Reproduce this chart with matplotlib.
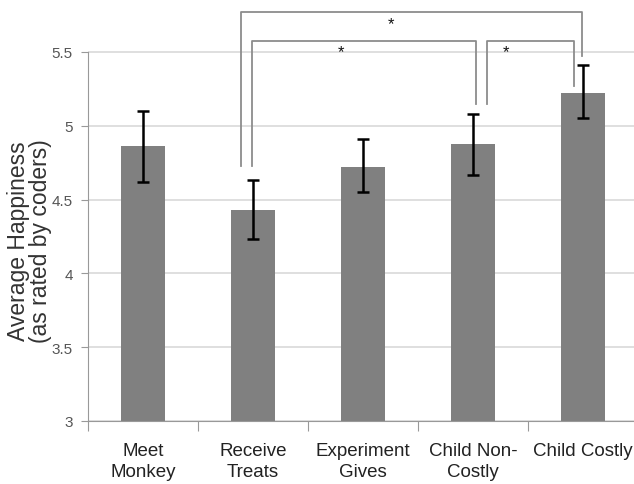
import numpy as np
import matplotlib.pyplot as plt

# data
categories = ["Meet\nMonkey", "Receive\nTreats", "Experiment\nGives", "Child Non-\nCostly", "Child Costly"]
means = [4.86, 4.43, 4.72, 4.88, 5.22]
err_hi = [5.10, 4.63, 4.91, 5.08, 5.41]
err_lo = [4.62, 4.23, 4.55, 4.67, 5.05]

# significance brackets: (x_left, x_right, y_top, y_left_end, y_right_end)
brackets = [
    (0.89, 3.99, 5.77, 4.73, 5.47),
    (0.99, 3.03, 5.575, 4.73, 5.15),
    (3.13, 3.92, 5.575, 5.15, 5.27),
]
stars = [(2.25, 5.69), (1.80, 5.50), (3.30, 5.50)]

plt.rcParams['font.family'] = ['Liberation Sans', 'DejaVu Sans']

fig = plt.figure(figsize=(6.34, 4.85), dpi=100)
ax = fig.add_axes([88/634, 1 - 422/485, 550/634, 422/485])

x = np.arange(len(categories))
yerr = [np.array(means) - np.array(err_lo), np.array(err_hi) - np.array(means)]
ax.bar(x, means, width=0.4, color='#808080', zorder=2)
ax.errorbar(x, means, yerr=yerr, fmt='none', ecolor='black', elinewidth=1.8,
            capsize=4, capthick=1.8, zorder=3)

for xl, xr, yt, yl, yr in brackets:
    ax.plot([xl, xl, xr, xr], [yl, yt, yt, yr], color='#8c8c8c', lw=1.3,
            zorder=4, clip_on=False)
for sx, sy in stars:
    ax.text(sx, sy, '*', ha='center', va='center', fontsize=12, color='#111111')

ax.set_xlim(-0.5, 4.5)
ax.set_ylim(3, 3 + 422/147.6)
ax.set_yticks([3, 3.5, 4, 4.5, 5, 5.5])
ax.set_yticklabels(['3', '3.5', '4', '4.5', '5', '5.5'])
ax.yaxis.grid(True, color='#d9d9d9', lw=1.2, zorder=0)
ax.set_axisbelow(True)

ax.set_xticks(np.arange(-0.5, 5, 1))
ax.set_xticklabels([])
ax.set_xticks(x, minor=True)
ax.set_xticklabels(categories, minor=True, fontsize=13.5, color='#222222',
                   linespacing=1.3)
ax.tick_params(axis='x', which='minor', length=0, pad=15)
ax.tick_params(axis='x', which='major', length=7, color='#999999', direction='out')
ax.tick_params(axis='y', length=5, color='#999999', labelsize=11,
               labelcolor='#555555', pad=6)

for s in ['top', 'right']:
    ax.spines[s].set_visible(False)
ax.spines['left'].set_bounds(3, 5.5)
ax.spines['left'].set_color('#999999')
ax.spines['bottom'].set_color('#999999')

ax.set_ylabel('Average Happiness\n(as rated by coders)', fontsize=16.5,
              color='#333333', linespacing=0.9)
ax.yaxis.set_label_coords(-0.066, 0.429)

fig.savefig('out.png', dpi=100)
